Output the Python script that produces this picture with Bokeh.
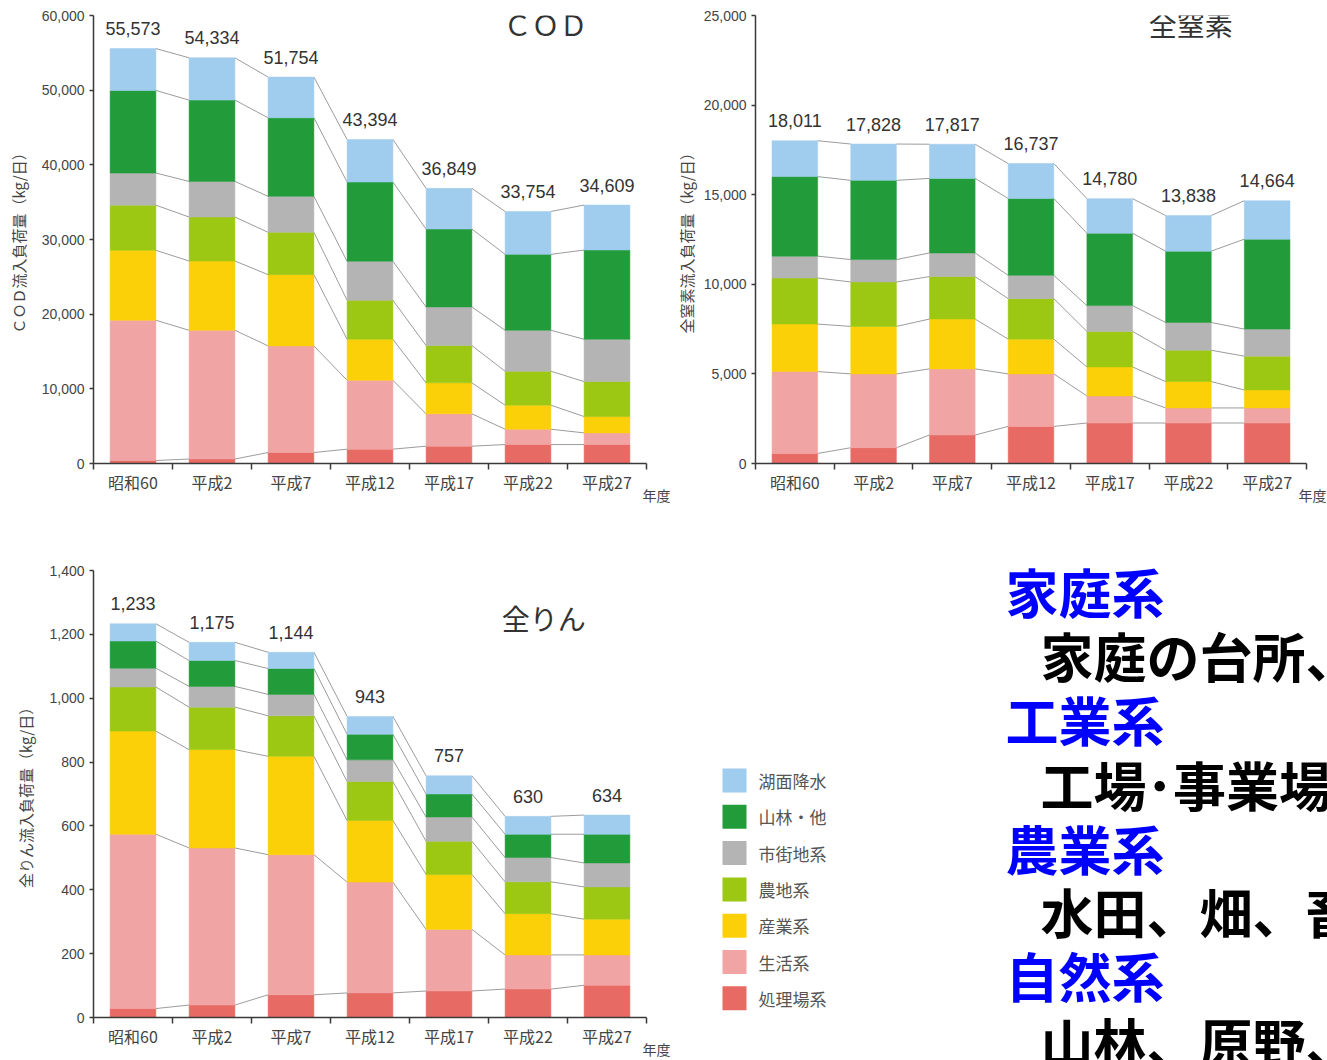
import numpy as np
from bokeh.plotting import figure
from bokeh.layouts import column, row
from bokeh.models import (ColumnDataSource, FixedTicker, NumeralTickFormatter,
                          Range1d, Label, Title)
from bokeh.core.properties import value
from bokeh.embed import file_html
from bokeh.resources import INLINE

# ---- data -------------------------------------------------------------
years = ["昭和60", "平成2", "平成7", "平成12", "平成17", "平成22", "平成27"]
sources = ["処理場系", "生活系", "産業系", "農地系", "市街地系", "山林・他", "湖面降水"]
colors = ["#E86A64", "#F0A4A4", "#FCD008", "#9CC814", "#B4B4B4", "#229C3A", "#A0CCEE"]

# COD (kg/日)
cod_shorijo = [400, 600, 1470, 1920, 2320, 2540, 2540]
cod_seikatsu = [18780, 17240, 14280, 9230, 4330, 2050, 1560]
cod_sangyo = [9370, 9280, 9540, 5490, 4150, 3220, 2190]
cod_nochi = [6050, 5890, 5670, 5220, 4990, 4550, 4680]
cod_shigaichi = [4300, 4770, 4820, 5220, 5180, 5480, 5670]
cod_sanrin = [11060, 10890, 10520, 10610, 10430, 10170, 11950]
cod_komen = [5613, 5664, 5454, 5704, 5449, 5744, 6019]

# 全窒素 (kg/日)
tn_shorijo = [560, 880, 1590, 2070, 2260, 2260, 2260]
tn_seikatsu = [4570, 4120, 3690, 2930, 1510, 840, 840]
tn_sangyo = [2650, 2650, 2780, 1940, 1620, 1470, 1000]
tn_nochi = [2570, 2480, 2370, 2260, 1980, 1750, 1890]
tn_shigaichi = [1220, 1250, 1320, 1300, 1440, 1550, 1510]
tn_sanrin = [4440, 4420, 4160, 4290, 4040, 3980, 5020]
tn_komen = [2001, 2028, 1907, 1947, 1930, 1988, 2144]

# 全りん (kg/日)
tp_shorijo = [28, 39, 71, 77, 83, 89, 101]
tp_seikatsu = [546, 492, 439, 347, 193, 107, 95]
tp_sangyo = [323, 308, 308, 193, 172, 129, 112]
tp_nochi = [138, 133, 127, 122, 104, 100, 101]
tp_shigaichi = [59, 65, 67, 68, 76, 76, 75]
tp_sanrin = [85, 81, 81, 80, 72, 73, 90]
tp_komen = [54, 57, 51, 56, 57, 56, 60]

# side notes
note_heads = ["家庭系", "工業系", "農業系", "自然系"]
note_lines = ["家庭の台所、", "工場･事業場", "水田、畑、畜", "山林、原野、"]

# ---- styling ----------------------------------------------------------
JP = "Noto Sans CJK JP"
NUM = "Liberation Sans"
AXIS = "#3a3a3a"
TXT = "#444444"
BAR_W = 0.58


def make_chart(title, ylabel, series, ymax, ystep, width, height, border,
               title_xy, nendo_offset, ylabel_standoff):
    xs = [i + 0.5 for i in range(len(years))]
    data = {"x": xs}
    for name, vals in zip(sources, series):
        data[name] = vals
    src = ColumnDataSource(data)

    left, right, top, bottom = border
    p = figure(width=width, height=height,
               x_range=Range1d(0, len(years)), y_range=Range1d(0, ymax),
               output_backend="svg", toolbar_location=None,
               min_border_left=left, min_border_right=right,
               min_border_top=top, min_border_bottom=bottom)
    p.grid.visible = False
    p.outline_line_color = None

    # grey connectors between matching boundaries of neighbouring bars
    cum = np.cumsum(np.array(series, dtype=float), axis=0)
    x0, y0, x1, y1 = [], [], [], []
    for level in cum:
        for i in range(len(years) - 1):
            x0.append(xs[i] + BAR_W / 2)
            x1.append(xs[i + 1] - BAR_W / 2)
            y0.append(level[i])
            y1.append(level[i + 1])
    p.segment(x0=x0, y0=y0, x1=x1, y1=y1, line_color="#9c9c9c", line_width=1)

    p.vbar_stack(sources, x="x", width=BAR_W, source=src,
                 fill_color=colors, line_color=colors, line_width=0.5)

    totals = cum[-1]
    p.text(x=xs, y=list(totals), text=[f"{int(round(t)):,}" for t in totals],
           text_align="center", text_baseline="middle", y_offset=-20,
           text_font=value(NUM), text_font_size="18px", text_color="#333333")

    xa = p.xaxis[0]
    xa.ticker = FixedTicker(ticks=xs, minor_ticks=list(range(len(years) + 1)))
    xa.major_label_overrides = {x: y for x, y in zip(xs, years)}
    xa.major_tick_line_color = None
    xa.major_tick_out = 0
    xa.major_tick_in = 0
    xa.minor_tick_out = 6
    xa.minor_tick_in = 0
    xa.minor_tick_line_color = AXIS
    xa.minor_tick_line_width = 1.5
    xa.axis_line_color = AXIS
    xa.axis_line_width = 1.5
    xa.major_label_text_font = JP
    xa.major_label_text_font_size = "16px"
    xa.major_label_text_color = TXT
    xa.major_label_standoff = 0

    ya = p.yaxis[0]
    ya.ticker = FixedTicker(ticks=list(range(0, ymax + 1, ystep)), minor_ticks=[])
    ya.formatter = NumeralTickFormatter(format="0,0")
    ya.major_tick_out = 4
    ya.major_tick_in = 0
    ya.minor_tick_out = 0
    ya.minor_tick_in = 0
    ya.major_tick_line_color = AXIS
    ya.major_tick_line_width = 1.5
    ya.axis_line_color = AXIS
    ya.axis_line_width = 1.5
    ya.major_label_text_font = NUM
    ya.major_label_text_font_size = "14px"
    ya.major_label_text_color = TXT
    ya.major_label_standoff = 5
    ya.axis_label = ylabel
    ya.axis_label_text_font = JP
    ya.axis_label_text_font_size = "15px"
    ya.axis_label_text_font_style = "normal"
    ya.axis_label_text_color = TXT
    ya.axis_label_standoff = ylabel_standoff

    p.add_layout(Label(x=title_xy[0], y=title_xy[1], text=title,
                       text_font=JP, text_font_size="28px", text_color="#333333",
                       text_align="center", text_baseline="middle"))
    # 年度 sits just under the right end of the category axis
    p.add_layout(Title(text="年度", align="right", offset=nendo_offset,
                       vertical_align="top", standoff=-24,
                       text_font=JP, text_font_size="14px",
                       text_font_style="normal", text_color=TXT), "below")
    return p


cod_series = [cod_shorijo, cod_seikatsu, cod_sangyo, cod_nochi,
              cod_shigaichi, cod_sanrin, cod_komen]
tn_series = [tn_shorijo, tn_seikatsu, tn_sangyo, tn_nochi,
             tn_shigaichi, tn_sanrin, tn_komen]
tp_series = [tp_shorijo, tp_seikatsu, tp_sangyo, tp_nochi,
             tp_shigaichi, tp_sanrin, tp_komen]

p_cod = make_chart("ＣＯＤ", "ＣＯＤ流入負荷量（kg/日）", cod_series, 60000, 10000,
                   671, 530, (93, 25, 15, 67), (5.72, 58800), -24, 10)
p_tn = make_chart("全窒素", "全窒素流入負荷量（kg/日）", tn_series, 25000, 5000,
                  656, 530, (84, 21, 15, 67), (5.53, 24500), -20, 4)
p_tp = make_chart("全りん", "全りん流入負荷量（kg/日）", tp_series, 1400, 200,
                  671, 530, (93, 25, 40, 43), (5.70, 1252), -24, 10)

# legend and notes panel (ranges in panel pixels, top-down)
SIDE_W, SIDE_H = 656, 530
p_side = figure(width=SIDE_W, height=SIDE_H,
                x_range=Range1d(0, SIDE_W), y_range=Range1d(SIDE_H, 0),
                x_axis_type=None, y_axis_type=None,
                output_backend="svg", toolbar_location=None,
                min_border_left=0, min_border_right=0,
                min_border_top=0, min_border_bottom=0)
p_side.frame_align = False
p_side.grid.visible = False
p_side.outline_line_color = None

# legend: top entry is the top of the stack
legend_names = list(reversed(sources))
legend_colors = list(reversed(colors))
LEG_X, LEG_Y, LEG_STEP = 63, 250, 36.3
leg_y = [LEG_Y + i * LEG_STEP for i in range(len(legend_names))]
p_side.rect(x=[LEG_X] * len(legend_names), y=leg_y, width=24, height=24,
            width_units="screen", height_units="screen",
            fill_color=legend_colors, line_color=None)
p_side.text(x=[LEG_X + 24] * len(legend_names), y=leg_y, text=legend_names,
            text_font=value(JP), text_font_size="17px", text_color="#555555",
            text_baseline="middle")

head_y = [60, 188, 317, 444]
line_y = [124, 253, 380, 510]
p_side.text(x=[334] * len(note_heads), y=head_y, text=note_heads,
            text_font=value(JP), text_font_style="bold", text_font_size="53px",
            text_color="#0000ff", text_baseline="middle")
p_side.text(x=[369] * len(note_lines), y=line_y, text=note_lines,
            text_font=value(JP), text_font_style="bold", text_font_size="53px",
            text_color="#000000", text_baseline="middle")

layout = column(row(p_cod, p_tn), row(p_tp, p_side))
open("out.html", "w").write(file_html(layout, INLINE))
